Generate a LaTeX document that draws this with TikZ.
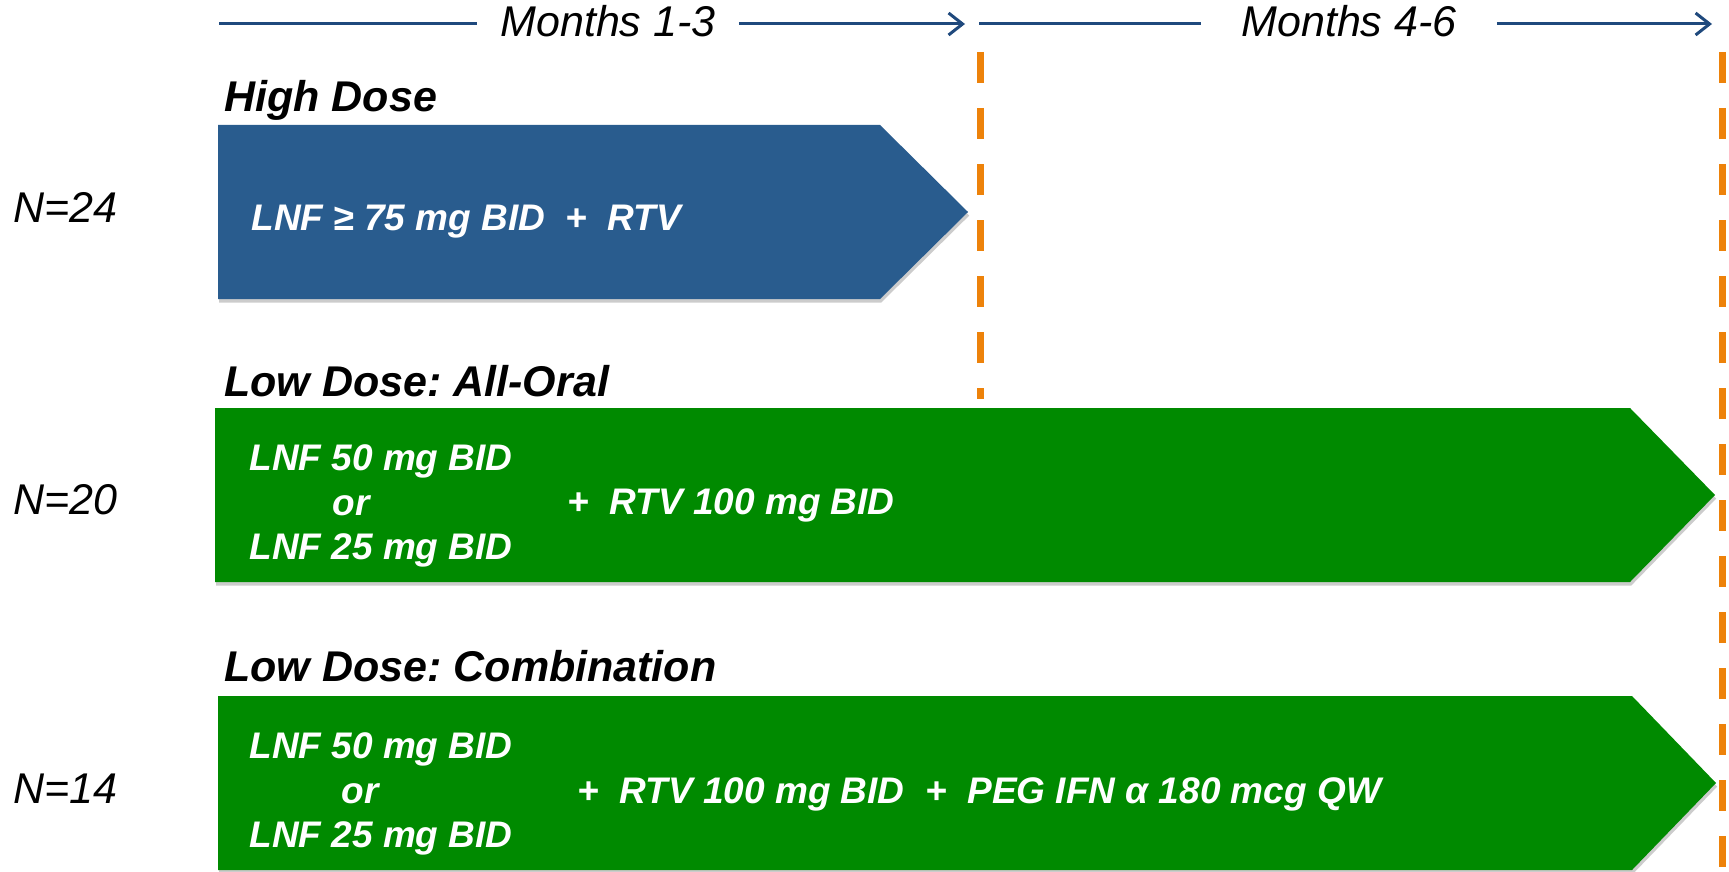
\documentclass[tikz,border=0pt]{standalone}
\usepackage{fontspec}
\setmainfont{Liberation Sans}
\usetikzlibrary{arrows.meta,shadows}
\definecolor{armblue}{RGB}{41,92,142}
\definecolor{armgreen}{RGB}{0,138,0}
\definecolor{axisblue}{RGB}{31,73,125}
\definecolor{markorange}{RGB}{237,130,10}
\frenchspacing

\begin{document}
\begin{tikzpicture}[x=0.5pt,y=-0.5pt,
  timeline/.style={draw=axisblue, line width=1.5pt},
  timearrow/.style={timeline, -{Straight Barb[length=7pt,width=11pt]}},
  boundary/.style={draw=markorange, line width=3.5pt, dash pattern=on 15.5pt off 12.5pt},
  arm/.style={drop shadow={opacity=0.4, shadow xshift=0.6pt, shadow yshift=-1.8pt}},
  txt/.style={anchor=west, inner sep=0pt, text height=0.716em, text depth=0pt, yshift=-2.8pt},
  period/.style={txt, anchor=center, font=\fontsize{21.5}{26}\selectfont\itshape},
  group/.style={txt, font=\fontsize{21.5}{26}\selectfont\bfseries\itshape},
  count/.style={txt, font=\fontsize{21.5}{26}\selectfont\itshape},
  dose/.style={txt, text=white, font=\fontsize{18.5}{22}\selectfont\bfseries\itshape},
]
\useasboundingbox (0,0) rectangle (1729,872);

% treatment arms
\path[arm, fill=armblue]  (218,125) -- (880,125) -- (968,212) -- (880,299) -- (218,299) -- cycle;
\path[arm, fill=armgreen] (215,408) -- (1630,408) -- (1715,495) -- (1630,582) -- (215,582) -- cycle;
\path[arm, fill=armgreen] (218,696) -- (1632,696) -- (1716,783) -- (1632,870) -- (218,870) -- cycle;

% end-of-period markers
\draw[boundary] (980,52) -- (980,399);
\draw[boundary] (1722,52) -- (1722,872);

% time axis
\coordinate (t0) at (219,24);
\coordinate (t1) at (965,24);
\coordinate (t2) at (979,24);
\coordinate (t3) at (1712,24);
\node[period, inner xsep=11.5pt] (m1) at (608,24) {Months 1-3};
\node[period, inner xsep=20pt] (m2) at (1349,24) {Months 4-6};
\draw[timeline]  (t0) -- (t0 -| m1.west);
\draw[timearrow] (t1 -| m1.east) -- (t1);
\draw[timeline]  (t2) -- (t2 -| m2.west);
\draw[timearrow] (t3 -| m2.east) -- (t3);

% arm titles
\node[group] (g1) at (224,99)  {High Dose};
\node[group] (g2) at (224,384) {Low Dose: All-Oral};
\node[group] (g3) at (224,669) {Low Dose: Combination};

% sample sizes
\node[count] (n1) at (13,210) {N=24};
\node[count] (n2) at (13,502) {N=20};
\node[count] (n3) at (13,791) {N=14};

% regimens
\node[dose] (d1) at (251,218) {LNF ≥ 75 mg BID\ \ +\ \ RTV};

\node[dose] (d2a) at (249,458) {LNF 50 mg BID};
\node[dose] (d2b) at (332,503) {or};
\node[dose] (d2c) at (249,547) {LNF 25 mg BID};
\node[dose] (d2d) at (567,502) {+\ \ RTV 100 mg BID};

\node[dose] (d3a) at (249,746) {LNF 50 mg BID};
\node[dose] (d3b) at (341,791) {or};
\node[dose] (d3c) at (249,835) {LNF 25 mg BID};
\node[dose] (d3d) at (577,791) {+\ \ RTV 100 mg BID\ \ +\ \ PEG IFN α 180 mcg QW};
\end{tikzpicture}
\end{document}
